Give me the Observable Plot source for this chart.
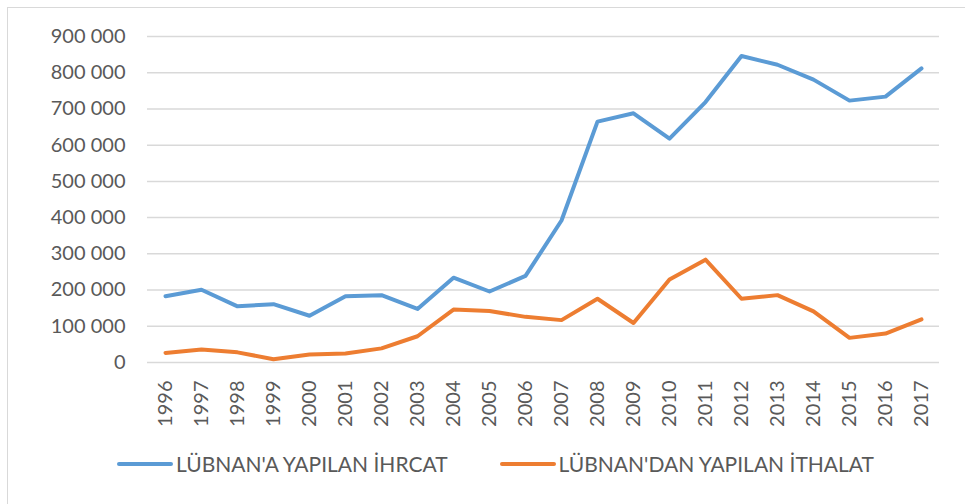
<!DOCTYPE html>
<html>
<head>
<meta charset="utf-8">
<script src="https://cdn.jsdelivr.net/npm/d3@7"></script>
<script src="https://cdn.jsdelivr.net/npm/@observablehq/plot@0.6"></script>
<style>
  body { margin: 0; background: #fff; font-family: Lato, "Open Sans", sans-serif; }
  #wrap { position: relative; width: 965px; height: 504px; overflow: hidden; }
  #frame { position: absolute; left: 7px; top: 7px; width: 1000px; height: 600px;
           border-left: 1.5px solid #d9d9d9; border-top: 1.5px solid #d9d9d9; }
  #chart { position: absolute; left: 0; top: 0; }
  #legend { position: absolute; top: 451px; left: 117px; display: flex; align-items: center;
            font-size: 21px; color: #595959; white-space: nowrap; }
  .item { display: flex; align-items: center; }
  .sw { display: inline-block; width: 56px; height: 4px; border-radius: 2px; margin-right: 3px; }
</style>
</head>
<body>
<div id="wrap">
  <div id="frame"></div>
  <div id="chart"></div>
  <div id="legend"></div>
</div>
<script>
const years = ["1996","1997","1998","1999","2000","2001","2002","2003","2004","2005","2006",
               "2007","2008","2009","2010","2011","2012","2013","2014","2015","2016","2017"];
const exportsLb = [183000, 201000, 155000, 161000, 129000, 183000, 186000, 148000, 234000, 196000, 239000,
                   392000, 665000, 688000, 618000, 719000, 846000, 822000, 781000, 723000, 734000, 812000];
const importsLb = [26500, 36000, 28000, 9000, 22000, 25000, 39000, 72500, 146000, 142000, 126000,
                   117000, 176000, 109000, 229000, 284000, 176000, 186000, 141000, 68000, 80000, 119000];
const yTicks = [0, 100000, 200000, 300000, 400000, 500000, 600000, 700000, 800000, 900000];
const seriesNames = ["LÜBNAN'A YAPILAN İHRCAT", "LÜBNAN'DAN YAPILAN İTHALAT"];
const seriesColors = ["#5b9bd5", "#ed7d31"];

const data = [
  ...years.map((y, i) => ({year: y, value: exportsLb[i], series: seriesNames[0]})),
  ...years.map((y, i) => ({year: y, value: importsLb[i], series: seriesNames[1]}))
];

const fmt = v => d3.format(",")(v).replace(/,/g, " ");

const chart = Plot.plot({
  width: 965,
  height: 440,
  marginLeft: 147,
  marginRight: 26,
  marginTop: 36,
  marginBottom: 78,
  style: { fontFamily: "Lato, 'Open Sans', sans-serif", background: "transparent" },
  x: { type: "point", domain: years, padding: 0.5 },
  y: { domain: [0, 900000] },
  color: { domain: seriesNames, range: seriesColors },
  marks: [
    Plot.ruleY(yTicks, { stroke: "#d9d9d9", strokeWidth: 1.5 }),
    Plot.axisY({ ticks: yTicks, tickSize: 0, tickPadding: 22, tickFormat: fmt,
                 fontSize: 20, fill: "#595959", label: null }),
    Plot.axisX({ tickSize: 0, tickRotate: -90, tickPadding: 18, fontSize: 20,
                 fill: "#595959", label: null }),
    Plot.line(data, { x: "year", y: "value", stroke: "series", strokeWidth: 4,
                      strokeLinejoin: "round", strokeLinecap: "round" })
  ]
});
document.getElementById("chart").appendChild(chart);

const legend = document.getElementById("legend");
seriesNames.forEach((name, i) => {
  const item = document.createElement("div");
  item.className = "item";
  item.style.marginRight = i === 0 ? "52px" : "0";
  const sw = document.createElement("span");
  sw.className = "sw";
  sw.style.background = seriesColors[i];
  const t = document.createElement("span");
  t.textContent = name;
  item.appendChild(sw);
  item.appendChild(t);
  legend.appendChild(item);
});
</script>
</body>
</html>
